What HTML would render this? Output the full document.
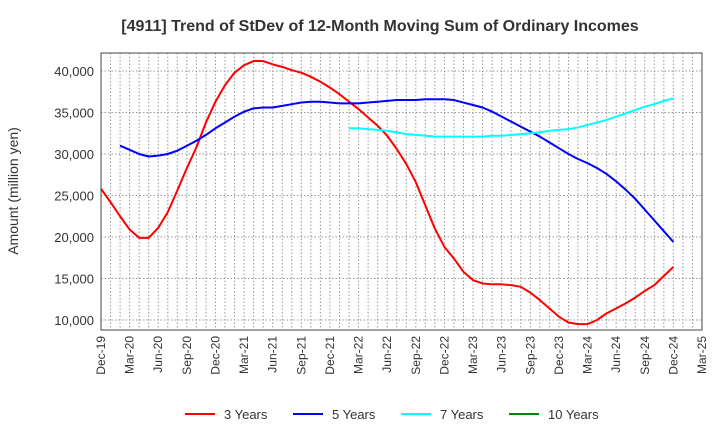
<!DOCTYPE html>
<html><head><meta charset="utf-8"><style>
body{margin:0;background:#fff;font-family:"Liberation Sans",sans-serif}
svg{display:block}
</style></head><body>
<svg id="c" width="720" height="440" xmlns="http://www.w3.org/2000/svg">
<text x="380" y="31" text-anchor="middle" font-size="16" font-weight="bold" fill="#333">[4911]  Trend of StDev of 12-Month Moving Sum of Ordinary Incomes</text>
<text transform="translate(18,191) rotate(-90)" text-anchor="middle" font-size="14" fill="#333">Amount (million yen)</text>
<g id="grid"></g>
<g id="series"></g>
<rect x="101" y="53" width="601" height="277" fill="none" stroke="#444" stroke-width="1"/>
<g id="axes"></g>
<g id="legend"></g>
</svg>
<script>
const xLabels=["Dec-19","Mar-20","Jun-20","Sep-20","Dec-20","Mar-21","Jun-21","Sep-21","Dec-21","Mar-22","Jun-22","Sep-22","Dec-22","Mar-23","Jun-23","Sep-23","Dec-23","Mar-24","Jun-24","Sep-24","Dec-24","Mar-25"];
const yTicks=[10000,15000,20000,25000,30000,35000,40000];
const red=[25.8,24.2,22.5,20.9,19.9,19.9,21.1,23.0,25.6,28.3,30.8,33.8,36.3,38.3,39.8,40.7,41.2,41.2,40.8,40.5,40.1,39.8,39.3,38.7,38.0,37.2,36.3,35.4,34.4,33.4,32.2,30.6,28.8,26.6,23.8,21.0,18.8,17.4,15.8,14.8,14.4,14.3,14.3,14.2,14.0,13.3,12.4,11.4,10.4,9.7,9.5,9.5,10.0,10.8,11.4,12.0,12.7,13.5,14.2,15.3,16.4];
const redStart=0;
const blue=[31.0,30.5,30.0,29.7,29.8,30.0,30.4,31.0,31.6,32.3,33.1,33.8,34.5,35.1,35.5,35.6,35.6,35.8,36.0,36.2,36.3,36.3,36.2,36.1,36.1,36.1,36.2,36.3,36.4,36.5,36.5,36.5,36.6,36.6,36.6,36.5,36.2,35.9,35.6,35.1,34.5,33.9,33.3,32.7,32.1,31.4,30.7,30.0,29.4,28.9,28.3,27.6,26.7,25.7,24.6,23.3,22.0,20.7,19.4];
const blueStart=2;
const cyan=[33.1,33.1,33.0,32.9,32.8,32.6,32.4,32.3,32.2,32.1,32.1,32.1,32.1,32.1,32.1,32.2,32.2,32.3,32.4,32.5,32.6,32.8,32.9,33.0,33.2,33.5,33.8,34.1,34.5,34.9,35.3,35.7,36.0,36.4,36.7];
const cyanStart=26;
const green=[];
const greenStart=0;
const legendNames=["3 Years","5 Years","7 Years","10 Years"];

const NS="http://www.w3.org/2000/svg";
const X0=101,X1=702,NM=63;
const xs=i=>X0+(X1-X0)*i/NM;
const ys=v=>320-(v-10000)*249/30000;
function mk(t,a,p){const e=document.createElementNS(NS,t);for(const k in a)e.setAttribute(k,a[k]);p.appendChild(e);return e;}
const grid=document.getElementById('grid'),axes=document.getElementById('axes'),ser=document.getElementById('series'),leg=document.getElementById('legend');
for(let i=1;i<NM;i++){const l=mk('line',{x1:xs(i),x2:xs(i),y1:53,y2:330,stroke:'#999','stroke-dasharray':'1.5,2'},grid);

}
yTicks.forEach(v=>{const l=mk('line',{x1:X0,x2:X1,y1:ys(v),y2:ys(v),stroke:'#999','stroke-dasharray':'1.5,2'},grid);


const t=mk('text',{x:94,y:ys(v)+5,'text-anchor':'end','font-size':13,fill:'#333'},axes);t.textContent=v.toLocaleString('en-US');

});
xLabels.forEach((s,k)=>{const x=xs(k*3);const t=mk('text',{transform:`translate(${x+4},336) rotate(-90)`,'text-anchor':'end','font-size':12,fill:'#333'},axes);t.textContent=s;

});
function line(arr,start,col,name){if(!arr.length)return;const p=mk('polyline',{points:arr.map((v,i)=>xs(start+i)+','+ys(v*1000)).join(' '),fill:'none',stroke:col,'stroke-width':2,'stroke-linejoin':'round'},ser);

}
line(red,redStart,'#f00','line-3-years');
line(blue,blueStart,'#00f','line-5-years');
line(cyan,cyanStart,'#0ff','line-7-years');
line(green,greenStart,'#080','line-10-years');
const lc=['#f00','#00f','#0ff','#080'],lx=[185,293,401,509];
legendNames.forEach((n,i)=>{const g=mk('g',{},leg);


mk('line',{x1:lx[i],x2:lx[i]+30,y1:414,y2:414,stroke:lc[i],'stroke-width':2},g);
const t=mk('text',{x:lx[i]+39,y:419,'font-size':13,fill:'#333'},g);t.textContent=n;});
</script>
</body></html>
